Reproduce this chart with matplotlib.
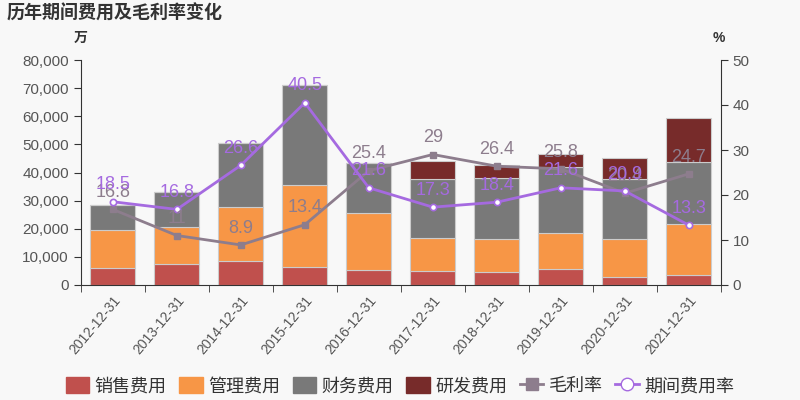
import matplotlib
matplotlib.use("Agg")
import matplotlib.pyplot as plt
import numpy as np
from matplotlib.lines import Line2D
from matplotlib.patches import FancyBboxPatch

plt.rcParams["font.family"] = ["Liberation Sans", "Noto Sans CJK SC", "DejaVu Sans"]

YEARS = ["2012-12-31", "2013-12-31", "2014-12-31", "2015-12-31", "2016-12-31",
         "2017-12-31", "2018-12-31", "2019-12-31", "2020-12-31", "2021-12-31"]
# 万元
SALES = [6200, 7600, 8600, 6500, 5300, 5100, 4600, 5800, 2700, 3700]
ADMIN = [13400, 13000, 19000, 28900, 20400, 11700, 11600, 12600, 13800, 17900]
FINANCE = [8700, 12500, 22800, 35800, 17600, 20900, 21700, 23600, 21200, 22000]
RND = [0, 0, 0, 0, 0, 6300, 4900, 4500, 7500, 15700]
# %
GROSS_MARGIN = [16.8, 11, 8.9, 13.4, 25.4, 29, 26.4, 25.8, 20.4, 24.7]
EXPENSE_RATE = [18.5, 16.8, 26.6, 40.5, 21.6, 17.3, 18.4, 21.6, 20.9, 13.3]

BAR_SERIES = [("销售费用", SALES, "#c0504d"),
              ("管理费用", ADMIN, "#f79646"),
              ("财务费用", FINANCE, "#797979"),
              ("研发费用", RND, "#772b2a")]
GM_COLOR = "#8d7d8d"
ER_COLOR = "#a56ae0"
BG = "#f8f8f8"
AX_COLOR = "#333333"
TXT = "#555555"


def main():
    fig = plt.figure(figsize=(8, 4), dpi=100, facecolor=BG)
    ax = fig.add_axes([0.101, 0.2875, 0.8, 0.5625], facecolor=BG)
    ax2 = ax.twinx()

    x = np.arange(len(YEARS))
    bottom = np.zeros(len(YEARS))
    for name, vals, color in BAR_SERIES:
        v = np.array(vals, dtype=float)
        ax.bar(x, v, bottom=bottom, width=0.7, color=color,
               edgecolor="#cccccc", linewidth=0.8, zorder=2)
        bottom += v

    ax.set_xlim(-0.5, len(YEARS) - 0.5)
    ax.set_ylim(0, 80000)
    ax.set_yticks(np.arange(0, 80001, 10000))
    ax.set_yticklabels([f"{v:,}" for v in range(0, 80001, 10000)])
    ax.set_xticks(x)
    ax.set_xticklabels(YEARS, rotation=50, ha="right", rotation_mode="anchor")
    ax.set_xticks(np.arange(-0.5, len(YEARS)), minor=True)
    ax.tick_params(axis="x", which="major", length=0, labelsize=10,
                   labelcolor=TXT, pad=6)
    ax.tick_params(axis="x", which="minor", length=5, color=AX_COLOR)
    ax.tick_params(axis="y", labelsize=11, labelcolor=TXT, length=5,
                   color=AX_COLOR)

    ax2.set_ylim(0, 50)
    ax2.set_yticks(np.arange(0, 51, 10))
    ax2.tick_params(axis="y", labelsize=11, labelcolor=TXT, length=5,
                    color=AX_COLOR)

    for a in (ax, ax2):
        a.spines["top"].set_visible(False)
        for s in ("left", "right", "bottom"):
            a.spines[s].set_color(AX_COLOR)
    ax.spines["right"].set_visible(False)
    ax2.spines["left"].set_visible(False)
    ax2.spines["bottom"].set_visible(False)

    ax2.plot(x, GROSS_MARGIN, color=GM_COLOR, linewidth=2, marker="s",
             markersize=4, markerfacecolor=GM_COLOR, markeredgecolor=GM_COLOR,
             zorder=4)
    ax2.plot(x, EXPENSE_RATE, color=ER_COLOR, linewidth=2, marker="o",
             markersize=4.5, markerfacecolor="white",
             markeredgecolor=ER_COLOR, markeredgewidth=1.2, zorder=5)
    for xi, v in zip(x, GROSS_MARGIN):
        ax2.annotate(f"{v:g}", (xi, v), xytext=(0, 6), textcoords="offset points",
                     ha="center", va="bottom", fontsize=13, color=GM_COLOR,
                     zorder=6)
    for xi, v in zip(x, EXPENSE_RATE):
        ax2.annotate(f"{v:g}", (xi, v), xytext=(0, 6), textcoords="offset points",
                     ha="center", va="bottom", fontsize=13, color=ER_COLOR,
                     zorder=7)

    fig.text(0.008, 0.965, "历年期间费用及毛利率变化", fontsize=13,
             fontweight="bold", color="#333333", ha="left", va="center")
    fig.text(0.101, 0.905, "万", fontsize=10, fontweight="bold",
             color="#333333", ha="center", va="center")
    fig.text(0.899, 0.905, "%", fontsize=10, fontweight="bold",
             color="#333333", ha="center", va="center")

    handles, labels = [], []
    for name, vals, color in BAR_SERIES:
        handles.append(FancyBboxPatch((0, 0), 1, 1, boxstyle="round,pad=0.1",
                                      facecolor=color, edgecolor=color))
        labels.append(name)
    handles.append(Line2D([], [], color=GM_COLOR, linewidth=2, marker="s",
                          markersize=8, markerfacecolor=GM_COLOR))
    labels.append("毛利率")
    handles.append(Line2D([], [], color=ER_COLOR, linewidth=2, marker="o",
                          markersize=9, markerfacecolor="white",
                          markeredgecolor=ER_COLOR))
    labels.append("期间费用率")
    fig.legend(handles, labels, loc="center", bbox_to_anchor=(0.5, 0.035),
               ncol=6, frameon=False, fontsize=13, handlelength=1.3,
               handleheight=1.0, handletextpad=0.3, columnspacing=0.7,
               labelcolor="#333333")

    fig.savefig("out.png", dpi=100, facecolor=BG)


if __name__ == "__main__":
    main()
